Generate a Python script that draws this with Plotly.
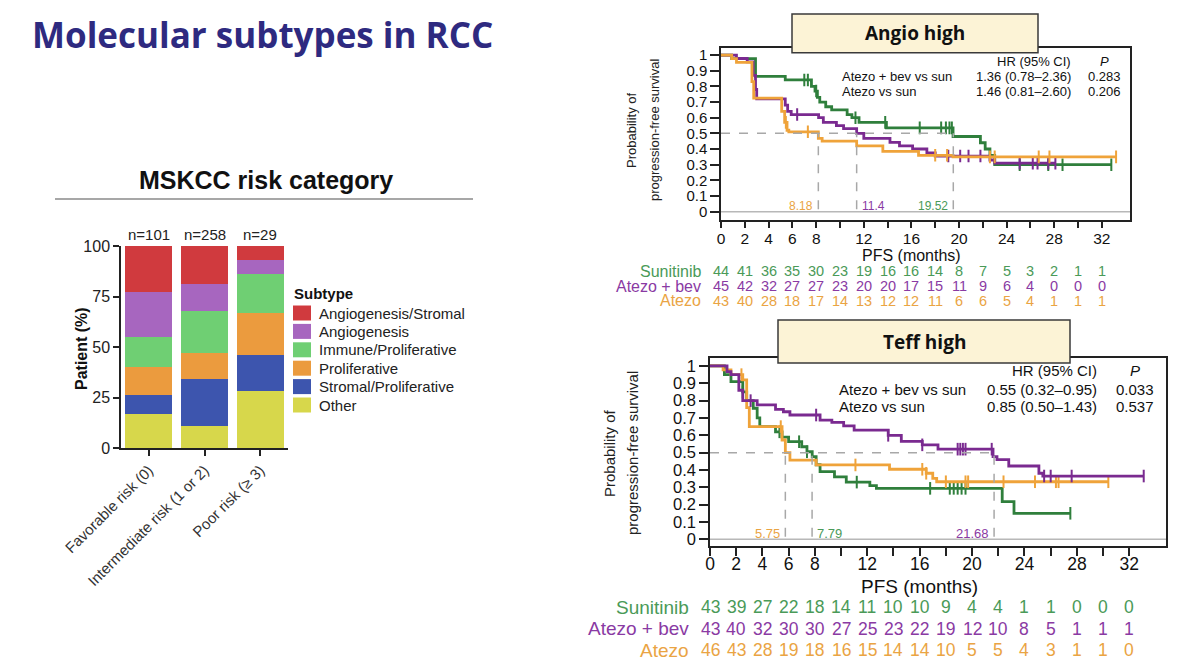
import plotly.graph_objects as go

W, H = 1200, 669


def px(x):
    return x / W


def py(y):
    return 1 - y / H


# ---------------- Bar chart data ----------------
risk_categories = ["Favorable risk (0)", "Intermediate risk (1 or 2)", "Poor risk (≥ 3)"]
n_labels = ["n=101", "n=258", "n=29"]
subtype_names = ["Other", "Stromal/Proliferative", "Proliferative",
                 "Immune/Proliferative", "Angiogenesis", "Angiogenesis/Stromal"]
other = [17, 11, 28]
stromal_prolif = [9, 23, 18]
proliferative = [14, 13, 21]
immune_prolif = [15, 21, 19]
angiogenesis = [22, 13, 7]
angio_stromal = [23, 19, 7]
subtype_values = [other, stromal_prolif, proliferative, immune_prolif, angiogenesis, angio_stromal]
subtype_colors = ["#d7d74b", "#3d55ae", "#eb9b3e", "#6fcf73", "#a766bf", "#d03a3e"]
legend_order = ["Angiogenesis/Stromal", "Angiogenesis", "Immune/Proliferative",
                "Proliferative", "Stromal/Proliferative", "Other"]

# ---------------- KM data: Angio high ----------------
months_ticks = list(range(0, 33, 2))
month_labels = ["0", "2", "4", "6", "8", "", "12", "", "16", "", "20", "", "24", "", "28", "", "32"]
surv_ticks = [0, 0.1, 0.2, 0.3, 0.4, 0.5, 0.6, 0.7, 0.8, 0.9, 1.0]
surv_labels = ["0", "0.1", "0.2", "0.3", "0.4", "0.5", "0.6", "0.7", "0.8", "0.9", "1"]

angio_sun_t = [0, 0.9, 2.9, 5.4, 7.6, 7.9, 8.1, 8.3, 8.8, 9.3, 10.6, 11.0, 11.6, 13.9, 19.5, 21.8, 22.2, 22.6, 23.0, 32.8]
angio_sun_s = [1.0, 0.977, 0.864, 0.841, 0.80, 0.77, 0.73, 0.70, 0.67, 0.65, 0.62, 0.60, 0.57, 0.535, 0.48, 0.44, 0.40, 0.36, 0.30, 0.30]
angio_sun_c = [7.0, 7.3, 8.0, 11.3, 13.8, 16.7, 18.5, 18.9, 19.2, 19.4, 25.1, 27.5, 28.7, 32.8]

angio_bev_t = [0, 1.3, 2.2, 2.7, 2.9, 3.0, 5.4, 5.6, 5.9, 8.2, 8.6, 9.7, 10.3, 11.4, 12.0, 14.2, 15.0, 16.1, 17.3, 18.0, 22.6, 23.0, 28.1]
angio_bev_s = [1.0, 0.978, 0.956, 0.87, 0.78, 0.72, 0.68, 0.64, 0.62, 0.60, 0.57, 0.55, 0.53, 0.50, 0.468, 0.443, 0.42, 0.40, 0.375, 0.355, 0.33, 0.31, 0.31]
angio_bev_c = [6.4, 19.1, 20.1, 20.8, 21.8, 25.1, 26.2, 26.6, 27.5, 28.1]

angio_ate_t = [0, 0.9, 1.3, 2.6, 2.75, 5.1, 5.35, 5.55, 5.7, 8.18, 8.5, 11.4, 13.6, 16.6, 19.5, 33.2]
angio_ate_s = [1.0, 0.977, 0.953, 0.83, 0.725, 0.64, 0.57, 0.52, 0.51, 0.468, 0.45, 0.42, 0.385, 0.36, 0.35, 0.35]
angio_ate_c = [5.45, 7.3, 18.0, 19.0, 22.6, 23.0, 26.7, 27.6, 33.2]

angio_medians = [8.18, 11.4, 19.52]
angio_median_labels = ["8.18", "11.4", "19.52"]

angio_risk_sun = [44, 41, 36, 35, 30, 23, 19, 16, 16, 14, 8, 7, 5, 3, 2, 1, 1]
angio_risk_bev = [45, 42, 32, 27, 27, 23, 20, 20, 17, 15, 11, 9, 6, 4, 0, 0, 0]
angio_risk_ate = [43, 40, 28, 18, 17, 14, 13, 12, 12, 11, 6, 6, 5, 4, 1, 1, 1]

angio_hr_rows = ["Atezo + bev vs sun", "Atezo vs sun"]
angio_hr_vals = ["1.36 (0.78–2.36)", "1.46 (0.81–2.60)"]
angio_p_vals = ["0.283", "0.206"]

# ---------------- KM data: Teff high ----------------
teff_sun_t = [0, 1.1, 1.6, 2.5, 2.8, 3.3, 3.6, 3.8, 5.0, 5.5, 6.0, 7.0, 7.4, 7.8, 8.1, 8.4, 9.5, 10.4, 12.2, 12.7, 22.3, 23.2, 27.5]
teff_sun_s = [1.0, 0.95, 0.91, 0.85, 0.80, 0.756, 0.70, 0.65, 0.62, 0.59, 0.563, 0.534, 0.505, 0.477, 0.43, 0.39, 0.36, 0.33, 0.31, 0.294, 0.217, 0.15, 0.15]
teff_sun_c = [2.5, 5.3, 6.8, 7.4, 11.2, 16.8, 18.3, 18.6, 18.9, 19.2, 19.5, 27.5]

teff_bev_t = [0, 1.3, 1.6, 2.2, 2.5, 3.6, 5.0, 5.6, 6.1, 8.4, 9.3, 10.2, 11.0, 13.6, 14.6, 16.2, 17.4, 21.6, 21.9, 22.8, 25.1, 25.4, 33.1]
teff_bev_s = [1.0, 0.967, 0.95, 0.86, 0.80, 0.776, 0.75, 0.736, 0.717, 0.688, 0.675, 0.654, 0.63, 0.60, 0.565, 0.545, 0.52, 0.477, 0.46, 0.423, 0.381, 0.365, 0.365]
teff_bev_c = [3.1, 8.1, 13.6, 16.2, 18.9, 19.1, 19.3, 19.5, 21.5, 25.5, 26.0, 27.6, 33.1]

teff_ate_t = [0, 1.0, 1.6, 2.5, 2.8, 3.0, 5.5, 5.75, 6.1, 8.1, 13.7, 16.5, 17.0, 17.3, 30.4]
teff_ate_s = [1.0, 0.977, 0.95, 0.92, 0.76, 0.65, 0.573, 0.50, 0.457, 0.429, 0.404, 0.381, 0.352, 0.332, 0.332]
teff_ate_c = [2.4, 5.4, 11.1, 16.2, 16.5, 18.0, 19.5, 19.7, 22.4, 24.8, 26.4, 26.6, 30.4]

teff_medians = [5.75, 7.79, 21.68]
teff_median_labels = ["5.75", "7.79", "21.68"]

teff_risk_sun = [43, 39, 27, 22, 18, 14, 11, 10, 10, 9, 4, 4, 1, 1, 0, 0, 0]
teff_risk_bev = [43, 40, 32, 30, 30, 27, 25, 23, 22, 19, 12, 10, 8, 5, 1, 1, 1]
teff_risk_ate = [46, 43, 28, 19, 18, 16, 15, 14, 14, 10, 5, 5, 4, 3, 1, 1, 0]

teff_hr_rows = ["Atezo + bev vs sun", "Atezo vs sun"]
teff_hr_vals = ["0.55 (0.32–0.95)", "0.85 (0.50–1.43)"]
teff_p_vals = ["0.033", "0.537"]

arm_names = ["Sunitinib", "Atezo + bev", "Atezo"]

# ---------------- styles ----------------
LINE_GREEN, LINE_PURPLE, LINE_ORANGE = "#2f7f3c", "#7a2a90", "#efa33a"
TXT_GREEN, TXT_PURPLE, TXT_ORANGE = "#4a9a58", "#8a3aa3", "#eaa443"
FONT = "Liberation Sans, Arial, sans-serif"
DASH = "#a8a8a8"


def step_at(t, times, surv):
    val = surv[0]
    for ti, si in zip(times, surv):
        if ti <= t:
            val = si
    return val


fig = go.Figure()

# ---- stacked bars
for name, vals, col in zip(subtype_names, subtype_values, subtype_colors):
    fig.add_trace(go.Bar(x=risk_categories, y=vals, name=name, marker=dict(color=col, line=dict(width=0)),
                         xaxis="x", yaxis="y", showlegend=False))


def add_km(xa, ya, t, s, c, color):
    fig.add_trace(go.Scatter(x=t, y=s, mode="lines", line=dict(shape="hv", color=color, width=2.8),
                             xaxis=xa, yaxis=ya, showlegend=False, hoverinfo="skip"))
    fig.add_trace(go.Scatter(x=c, y=[step_at(ci, t, s) for ci in c], mode="markers",
                             marker=dict(symbol="line-ns", size=9, line=dict(width=2, color=color)),
                             xaxis=xa, yaxis=ya, showlegend=False, hoverinfo="skip"))


add_km("x2", "y2", angio_sun_t, angio_sun_s, angio_sun_c, LINE_GREEN)
add_km("x2", "y2", angio_bev_t, angio_bev_s, angio_bev_c, LINE_PURPLE)
add_km("x2", "y2", angio_ate_t, angio_ate_s, angio_ate_c, LINE_ORANGE)
add_km("x3", "y3", teff_sun_t, teff_sun_s, teff_sun_c, LINE_GREEN)
add_km("x3", "y3", teff_ate_t, teff_ate_s, teff_ate_c, LINE_ORANGE)
add_km("x3", "y3", teff_bev_t, teff_bev_s, teff_bev_c, LINE_PURPLE)

shapes = []
ann = []

# ---- slide title
ann.append(dict(text="<b>Molecular subtypes in RCC</b>", x=px(30), y=py(35), xref="paper", yref="paper",
                xanchor="left", yanchor="middle", showarrow=False,
                font=dict(family="Open Sans, Lato, sans-serif", size=35, color="#2e2a80")))

# ---- bar panel header
ann.append(dict(text="<b>MSKCC risk category</b>", x=px(266), y=py(180), xref="paper", yref="paper",
                xanchor="center", yanchor="middle", showarrow=False,
                font=dict(family=FONT, size=25, color="#111")))
shapes.append(dict(type="line", xref="paper", yref="paper", x0=px(55), x1=px(473), y0=py(199), y1=py(199),
                   line=dict(color="#8a8a8a", width=1.5)))
for cat, lab in zip(risk_categories, n_labels):
    ann.append(dict(text=lab, x=cat, y=py(234), xref="x", yref="paper", xanchor="center", yanchor="middle",
                    showarrow=False, font=dict(family=FONT, size=15, color="#222")))
ann.append(dict(text="<b>Patient (%)</b>", x=px(81), y=py(349), xref="paper", yref="paper", textangle=-90,
                xanchor="center", yanchor="middle", showarrow=False, font=dict(family=FONT, size=16, color="#111")))

# ---- manual legend
ann.append(dict(text="<b>Subtype</b>", x=px(292), y=py(293), xref="paper", yref="paper", xanchor="left",
                yanchor="middle", showarrow=False, font=dict(family=FONT, size=15, color="#111")))
col_by_name = dict(zip(subtype_names, subtype_colors))
for i, name in enumerate(legend_order):
    yc = 313 + i * 18.4
    shapes.append(dict(type="rect", xref="paper", yref="paper", x0=px(293), x1=px(311), y0=py(yc - 7.5),
                       y1=py(yc + 7.5), fillcolor=col_by_name[name], line=dict(width=0)))
    ann.append(dict(text=name, x=px(317), y=py(yc), xref="paper", yref="paper", xanchor="left", yanchor="middle",
                    showarrow=False, font=dict(family=FONT, size=15, color="#222")))


# ---- KM panel decorations
def km_panel(xa, ya, xmax, medians, med_labels, med_colors, med_sides, fs, risk, rows_y, label_right,
             label_fs, risk_fs, hr_rows, hr_vals, p_vals, hr_y, hr_label_x, hr_x, p_x, hr_fs, box, title,
             ylab_x, ylab_y, ylab_fs, pfs_y, pfs_fs):
    # zero line
    shapes.append(dict(type="line", xref=xa, yref=ya, x0=0, x1=xmax, y0=0, y1=0, line=dict(color="#b8b8b8", width=1.5),
                       layer="below"))
    # dashed median lines
    shapes.append(dict(type="line", xref=xa, yref=ya, x0=0, x1=max(medians), y0=0.5, y1=0.5,
                       line=dict(color=DASH, width=1.5, dash="dash")))
    for m, lab, col, side in zip(medians, med_labels, med_colors, med_sides):
        shapes.append(dict(type="line", xref=xa, yref=ya, x0=m, x1=m, y0=0.015, y1=0.5,
                           line=dict(color=DASH, width=1.5, dash="dash")))
        ann.append(dict(text=lab, x=m - 0.25 if side == "left" else m + 0.25, y=0.035, xref=xa, yref=ya,
                        xanchor="right" if side == "left" else "left", yanchor="middle", showarrow=False,
                        font=dict(family=FONT, size=fs, color=col)))
    # risk table
    for vals, y, name, col, in zip(risk, rows_y, arm_names, [TXT_GREEN, TXT_PURPLE, TXT_ORANGE]):
        ann.append(dict(text=name, x=px(label_right), y=py(y), xref="paper", yref="paper", xanchor="right",
                        yanchor="middle", showarrow=False, borderpad=0,
                        font=dict(family=FONT, size=label_fs, color=col)))
        for t, v in zip(months_ticks, vals):
            ann.append(dict(text=str(v), x=t, y=py(y), xref=xa, yref="paper", xanchor="center", yanchor="middle",
                            showarrow=False, borderpad=0, font=dict(family=FONT, size=risk_fs, color=col)))
    ann.append(dict(text="PFS (months)", x=16, y=py(pfs_y), xref=xa, yref="paper", xanchor="center",
                    yanchor="middle", showarrow=False, font=dict(family=FONT, size=pfs_fs, color="#111")))
    # HR table
    ann.append(dict(text="HR (95% CI)", x=px(hr_x), y=py(hr_y[0]), xref="paper", yref="paper", xanchor="right",
                    yanchor="middle", showarrow=False, font=dict(family=FONT, size=hr_fs, color="#111")))
    ann.append(dict(text="<i>P</i>", x=px(p_x), y=py(hr_y[0]), xref="paper", yref="paper", xanchor="center",
                    yanchor="middle", showarrow=False, font=dict(family=FONT, size=hr_fs, color="#111")))
    for r, hv, pv, y in zip(hr_rows, hr_vals, p_vals, hr_y[1:]):
        ann.append(dict(text=r, x=px(hr_label_x), y=py(y), xref="paper", yref="paper",
                        xanchor="left", yanchor="middle", showarrow=False, font=dict(family=FONT, size=hr_fs, color="#111")))
        ann.append(dict(text=hv, x=px(hr_x), y=py(y), xref="paper", yref="paper", xanchor="right",
                        yanchor="middle", showarrow=False, font=dict(family=FONT, size=hr_fs, color="#111")))
        ann.append(dict(text=pv, x=px(p_x), y=py(y), xref="paper", yref="paper", xanchor="center",
                        yanchor="middle", showarrow=False, font=dict(family=FONT, size=hr_fs, color="#111")))
    # title box
    x0, x1, y0, y1 = box
    shapes.append(dict(type="rect", xref="paper", yref="paper", x0=px(x0), x1=px(x1), y0=py(y1), y1=py(y0),
                       fillcolor="#fcf3d6", line=dict(color="#3a3a3a", width=1.5), layer="above"))
    ann.append(dict(text="<b>" + title + "</b>", x=px((x0 + x1) / 2), y=py((y0 + y1) / 2), xref="paper", yref="paper",
                    xanchor="center", yanchor="middle", showarrow=False,
                    font=dict(family="Open Sans, Lato, sans-serif", size=19, color="#111")))
    # y title (two rotated lines)
    for dx, line in zip([-11.5, 11.5], ["Probability of", "progression-free survival"]):
        ann.append(dict(text=line, x=px(ylab_x + dx), y=py(ylab_y), xref="paper", yref="paper", textangle=-90,
                        xanchor="center", yanchor="middle", showarrow=False,
                        font=dict(family=FONT, size=ylab_fs, color="#222")))


km_panel("x2", "y2", 34.37, angio_medians, angio_median_labels, [TXT_ORANGE, TXT_PURPLE, TXT_GREEN],
         ["left", "right", "left"], 12, [angio_risk_sun, angio_risk_bev, angio_risk_ate], [271.5, 286, 300.5],
         702, 16, 14.5, angio_hr_rows, angio_hr_vals, angio_p_vals, [61.7, 76.7, 91.7], 840, 1073, 1104, 13,
         (792, 1038, 14, 52.7), "Angio high", 643.5, 130, 13, 255, 16)
km_panel("x3", "y3", 34.8, teff_medians, teff_median_labels, [TXT_ORANGE, TXT_GREEN, TXT_PURPLE],
         ["left", "right", "left"], 13, [teff_risk_sun, teff_risk_bev, teff_risk_ate], [607, 628.5, 650],
         690, 19, 17.5, teff_hr_rows, teff_hr_vals, teff_p_vals, [370.7, 389, 406.7], 837, 1099, 1135, 15,
         (778, 1070, 320, 363), "Teff high", 621.5, 453, 15, 586, 19)

axis_common = dict(showline=True, linecolor="#222", linewidth=1.5, ticks="outside", tickcolor="#222",
                   tickwidth=1.5, showgrid=False, zeroline=False, automargin=False)

fig.update_layout(
    width=W, height=H, margin=dict(l=0, r=0, t=0, b=0, pad=0, autoexpand=False),
    paper_bgcolor="white", plot_bgcolor="rgba(0,0,0,0)",
    barmode="stack", bargap=0.155, showlegend=False,
    font=dict(family=FONT, color="#222"),
    xaxis=dict(domain=[px(121), px(288)], range=[-0.5, 2.5], anchor="y", type="category", tickangle=-45,
               ticklen=6, tickfont=dict(size=15, color="#333"), **axis_common),
    yaxis=dict(domain=[py(448), py(246)], range=[0, 100], anchor="x", tickvals=[0, 25, 50, 75, 100],
               ticklen=6, tickfont=dict(size=16, color="#222"), **axis_common),
    xaxis2=dict(domain=[px(721), px(1130)], range=[0, 34.37], anchor="y2", tickvals=months_ticks,
                ticktext=month_labels, ticklen=7, mirror=True, ticklabelstandoff=-3,
                tickfont=dict(size=15.5, color="#111"), **axis_common),
    yaxis2=dict(domain=[py(219.5), py(48)], range=[-0.05, 1.045], anchor="x2", tickvals=surv_ticks,
                ticktext=surv_labels, ticklen=9, mirror=True, tickfont=dict(size=15, color="#111"), **axis_common),
    xaxis3=dict(domain=[px(710), px(1166)], range=[0, 34.8], anchor="y3", tickvals=months_ticks,
                ticktext=month_labels, ticklen=8, mirror=True, ticklabelstandoff=-7,
                tickfont=dict(size=17.5, color="#111"), **axis_common),
    yaxis3=dict(domain=[py(546), py(358)], range=[-0.0387, 1.046], anchor="x3", tickvals=surv_ticks,
                ticktext=surv_labels, ticklen=9, mirror=True, tickfont=dict(size=16.5, color="#111"), **axis_common),
    shapes=shapes, annotations=ann,
)

fig.write_html("out.html")
